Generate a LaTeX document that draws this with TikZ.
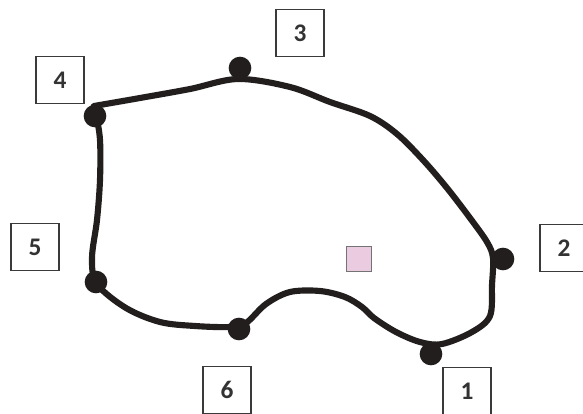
\documentclass[tikz,border=0pt]{standalone}
\usepackage{fontspec}
\setmainfont{Carlito}
\definecolor{ink}{HTML}{231E1E}
\definecolor{boxline}{HTML}{3A3A3A}
\definecolor{pinkfill}{HTML}{EACBE0}
\begin{document}
\begin{tikzpicture}[x=0.75pt,y=-0.75pt,
  dot/.style={circle,fill=ink,inner sep=0pt,minimum size=17pt},
  numbox/.style={draw=boxline,line width=1pt,fill=white,minimum width=36pt,minimum height=35pt,inner sep=0pt,font=\bfseries\fontsize{19}{19}\selectfont,text=black!80},
  loop/.style={draw=ink,line width=4.6pt,line join=round,line cap=round}]
\useasboundingbox (0,0) rectangle (583,414);
% closed outline
\draw[loop] plot[smooth,tension=0.55] coordinates {
  (94,106) (140,98) (190,89) (238,79) (290,87) (330,102) (370,116) (397,134)
  (423,160) (447,188) (470,218) (487,242) (493,258) (492,285) (490,316)
  (472,332) (442,344) (420,342) (396,332) (374,318) (362,307) (345,297)
  (320,291) (290,292) (266,304) (246,323) (230,327) (195,326) (160,322)
  (126,308) (97,284) (92,258) (97,220) (100,180) (100,140) (96,114) (94,106)};
% points
\node[dot] (d1) at (431,354) {};
\node[dot] (d2) at (503,259) {};
\node[dot] (d3) at (240,68) {};
\node[dot] (d4) at (95,116) {};
\node[dot] (d5) at (96,282) {};
\node[dot] (d6) at (239,329) {};
% labels
\node[numbox] (b1) at (467,391) {1};
\node[numbox] (b2) at (564,248) {2};
\node[numbox] (b3) at (300,33) {3};
\node[numbox] (b4) at (60,80) {4};
\node[numbox] (b5) at (35,247) {5};
\node[numbox] (b6) at (227,390) {6};
% small pink square
\node[draw=black!55,fill=pinkfill,line width=0.6pt,minimum size=19pt,inner sep=0pt] (sq) at (359,259) {};
\end{tikzpicture}
\end{document}
